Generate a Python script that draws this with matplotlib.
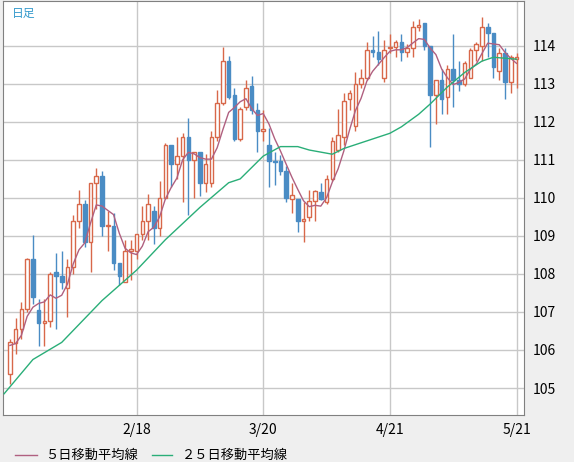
import numpy as np
import matplotlib
matplotlib.use("Agg")
import matplotlib.pyplot as plt
from matplotlib.lines import Line2D

plt.rcParams['font.family'] = ['Noto Sans CJK JP', 'DejaVu Sans']

# daily candles (open, high, low, close)
opens = [105.37, 106.18, 106.55, 107.08, 108.4, 107.05, 106.7, 106.75, 108.05, 107.95,
         107.63, 108.18, 109.4, 109.85, 108.85, 110.4, 110.58, 109.25, 109.25, 108.3,
         107.8, 108.6, 108.6, 109.05, 109.4, 109.65, 109.2, 110.0, 111.4, 110.9,
         111.1, 111.6, 111.0, 111.2, 110.4, 110.4, 111.6, 112.5, 113.6, 112.7,
         111.55, 112.4, 112.95, 112.3, 111.75, 111.4, 110.97, 110.97, 110.7, 109.97,
         109.97, 109.4, 109.5, 109.92, 110.15, 109.9, 110.5, 111.25, 111.6, 112.6,
         111.9, 113.0, 113.15, 113.9, 113.85, 113.15, 113.95, 113.98, 114.1, 113.85,
         113.95, 114.5, 114.6, 114.0, 112.7, 113.1, 112.65, 113.4, 113.1, 113.0,
         113.15, 113.9, 114.0, 114.5, 114.35, 113.35, 113.8, 113.05, 113.65]
highs = [106.3, 106.85, 107.25, 108.42, 109.03, 107.35, 107.35, 108.05, 108.55, 108.6,
         108.4, 109.55, 110.2, 109.95, 110.4, 110.8, 110.7, 109.65, 109.6, 108.3,
         108.9, 108.9, 109.05, 109.8, 110.1, 109.8, 110.45, 111.45, 111.4, 111.6,
         111.7, 112.1, 111.2, 111.2, 111.15, 111.75, 112.85, 113.97, 113.73, 112.9,
         112.4, 113.1, 113.2, 112.5, 112.3, 111.85, 111.2, 111.13, 110.85, 110.4,
         109.97, 109.9, 110.2, 110.2, 110.4, 110.6, 111.6, 112.35, 112.75, 112.85,
         113.3, 113.4, 114.1, 114.25, 114.4, 114.15, 114.3, 114.15, 114.3, 114.05,
         114.65, 114.7, 114.6, 114.0, 113.1, 113.4, 113.5, 114.3, 113.6, 113.6,
         113.95, 114.1, 114.75, 114.6, 114.35, 113.95, 113.95, 113.75, 113.8]
lows = [105.1, 105.9, 106.3, 107.0, 107.2, 106.1, 106.1, 106.6, 106.55, 107.6,
        106.87, 108.0, 109.2, 108.7, 108.05, 109.7, 109.0, 108.6, 108.1, 107.7,
        107.8, 107.85, 108.4, 108.9, 108.9, 108.8, 109.0, 110.0, 110.3, 110.5,
        109.9, 109.55, 110.0, 110.05, 110.15, 110.3, 111.5, 112.45, 112.6, 111.5,
        111.5, 112.3, 112.2, 111.2, 111.5, 110.3, 110.35, 110.6, 109.9, 109.6,
        109.1, 108.85, 109.4, 109.4, 109.95, 109.85, 110.45, 111.2, 111.4, 112.3,
        111.75, 112.9, 113.1, 113.7, 113.5, 113.05, 113.8, 113.7, 113.6, 113.7,
        113.7, 114.4, 113.9, 111.35, 111.95, 112.2, 112.2, 112.4, 112.8, 112.95,
        113.15, 113.6, 113.6, 113.7, 113.15, 113.1, 112.6, 112.75, 112.9]
closes = [106.2, 106.55, 107.08, 108.4, 107.4, 106.7, 106.75, 108.0, 107.95, 107.8,
          108.18, 109.4, 109.85, 108.85, 110.4, 110.58, 109.25, 109.28, 108.3, 107.95,
          108.6, 108.65, 109.05, 109.4, 109.85, 109.2, 110.0, 111.4, 110.9, 111.1,
          111.6, 111.0, 111.2, 110.4, 110.9, 111.6, 112.5, 113.6, 112.65, 111.55,
          112.35, 112.9, 112.3, 111.75, 111.8, 110.97, 110.95, 110.7, 110.0, 110.08,
          109.4, 109.45, 109.92, 110.18, 109.97, 110.5, 111.5, 111.65, 112.55, 112.75,
          113.0, 113.15, 113.9, 113.85, 113.65, 113.9, 113.98, 114.1, 113.85, 113.95,
          114.5, 114.55, 114.0, 112.7, 113.1, 112.6, 113.4, 113.1, 113.0, 113.55,
          113.9, 114.05, 114.5, 114.35, 113.45, 113.8, 113.05, 113.7, 113.7]
# closes before the first shown day (for the 5-day average)
prior_closes = [106.3, 106.0, 105.9, 106.2]

# 25-day average read at some days
ma25_days = [-1, 4, 9, 16, 22, 27, 33, 38, 40, 44, 47, 50, 52, 56, 58, 62, 66, 68, 71, 73, 76, 79, 82, 84, 88]
ma25_vals = [104.85, 105.75, 106.2, 107.3, 108.1, 108.9, 109.75, 110.4, 110.5, 111.1, 111.35, 111.35,
             111.26, 111.15, 111.3, 111.5, 111.7, 111.87, 112.2, 112.47, 112.92, 113.3, 113.6, 113.7, 113.65]

date_days = [22, 44, 66, 88]
date_labels = ['2/18', '3/20', '4/21', '5/21']

up_col = '#d8684a'
dn_col = '#4a8cc4'
ma5_col = '#b06080'
ma25_col = '#2aae78'

fig = plt.figure(figsize=(5.74, 4.62), dpi=100, facecolor='#efefef')
ax = fig.add_axes([3 / 574, 47 / 462, 521 / 574, 414 / 462])
ax.set_facecolor('white')

n = len(closes)
x = np.arange(n)
for i in range(n):
    o, h, l, c = opens[i], highs[i], lows[i], closes[i]
    up = c >= o
    col = up_col if up else dn_col
    lo_b, hi_b = min(o, c), max(o, c)
    if hi_b - lo_b < 0.03:
        hi_b = lo_b + 0.03
    ax.vlines(i, l, lo_b, color=col, lw=1, zorder=3)
    ax.vlines(i, hi_b, h, color=col, lw=1, zorder=3)
    if up:
        ax.bar(i, hi_b - lo_b, bottom=lo_b, width=0.62, facecolor='white', edgecolor=col, lw=1, zorder=3)
    else:
        ax.bar(i, hi_b - lo_b, bottom=lo_b, width=0.62, facecolor=col, edgecolor=col, lw=1, zorder=3)

allc = np.array(prior_closes + closes)
ma5 = np.convolve(allc, np.ones(5) / 5, mode='valid')
ax.plot(np.arange(-0.5, n), np.r_[np.mean(allc[:4]) , ma5][:n + 1] if False else ma5, color=ma5_col, lw=1, zorder=4) if False else None
ax.plot(x, ma5, color=ma5_col, lw=1, zorder=4)
ax.plot(ma25_days, ma25_vals, color=ma25_col, lw=1, zorder=4)

ax.set_xlim(-1.2, 89.3)
ax.set_ylim(104.29, 115.18)
ax.set_yticks(range(105, 115))
ax.yaxis.tick_right()
ax.tick_params(axis='y', length=0, pad=6, labelsize=10)
ax.set_xticks(date_days)
ax.set_xticklabels(date_labels)
ax.tick_params(axis='x', length=0, pad=6, labelsize=10)
ax.grid(True, color='#c8c8c8', lw=1, zorder=0)
for s in ax.spines.values():
    s.set_color('#808080')

fig.text(12 / 574, 1 - 13 / 462, '日足', color='#3399cc', fontsize=8.5, va='center')

fig.add_artist(Line2D([15 / 574, 37 / 574], [1 - 455 / 462] * 2, color=ma5_col, lw=1))
fig.text(45 / 574, 1 - 455 / 462, '５日移動平均線', fontsize=9.5, va='center')
fig.add_artist(Line2D([152 / 574, 172 / 574], [1 - 455 / 462] * 2, color=ma25_col, lw=1))
fig.text(182 / 574, 1 - 455 / 462, '２５日移動平均線', fontsize=9.5, va='center')

fig.savefig('out.png', dpi=100, facecolor=fig.get_facecolor())
